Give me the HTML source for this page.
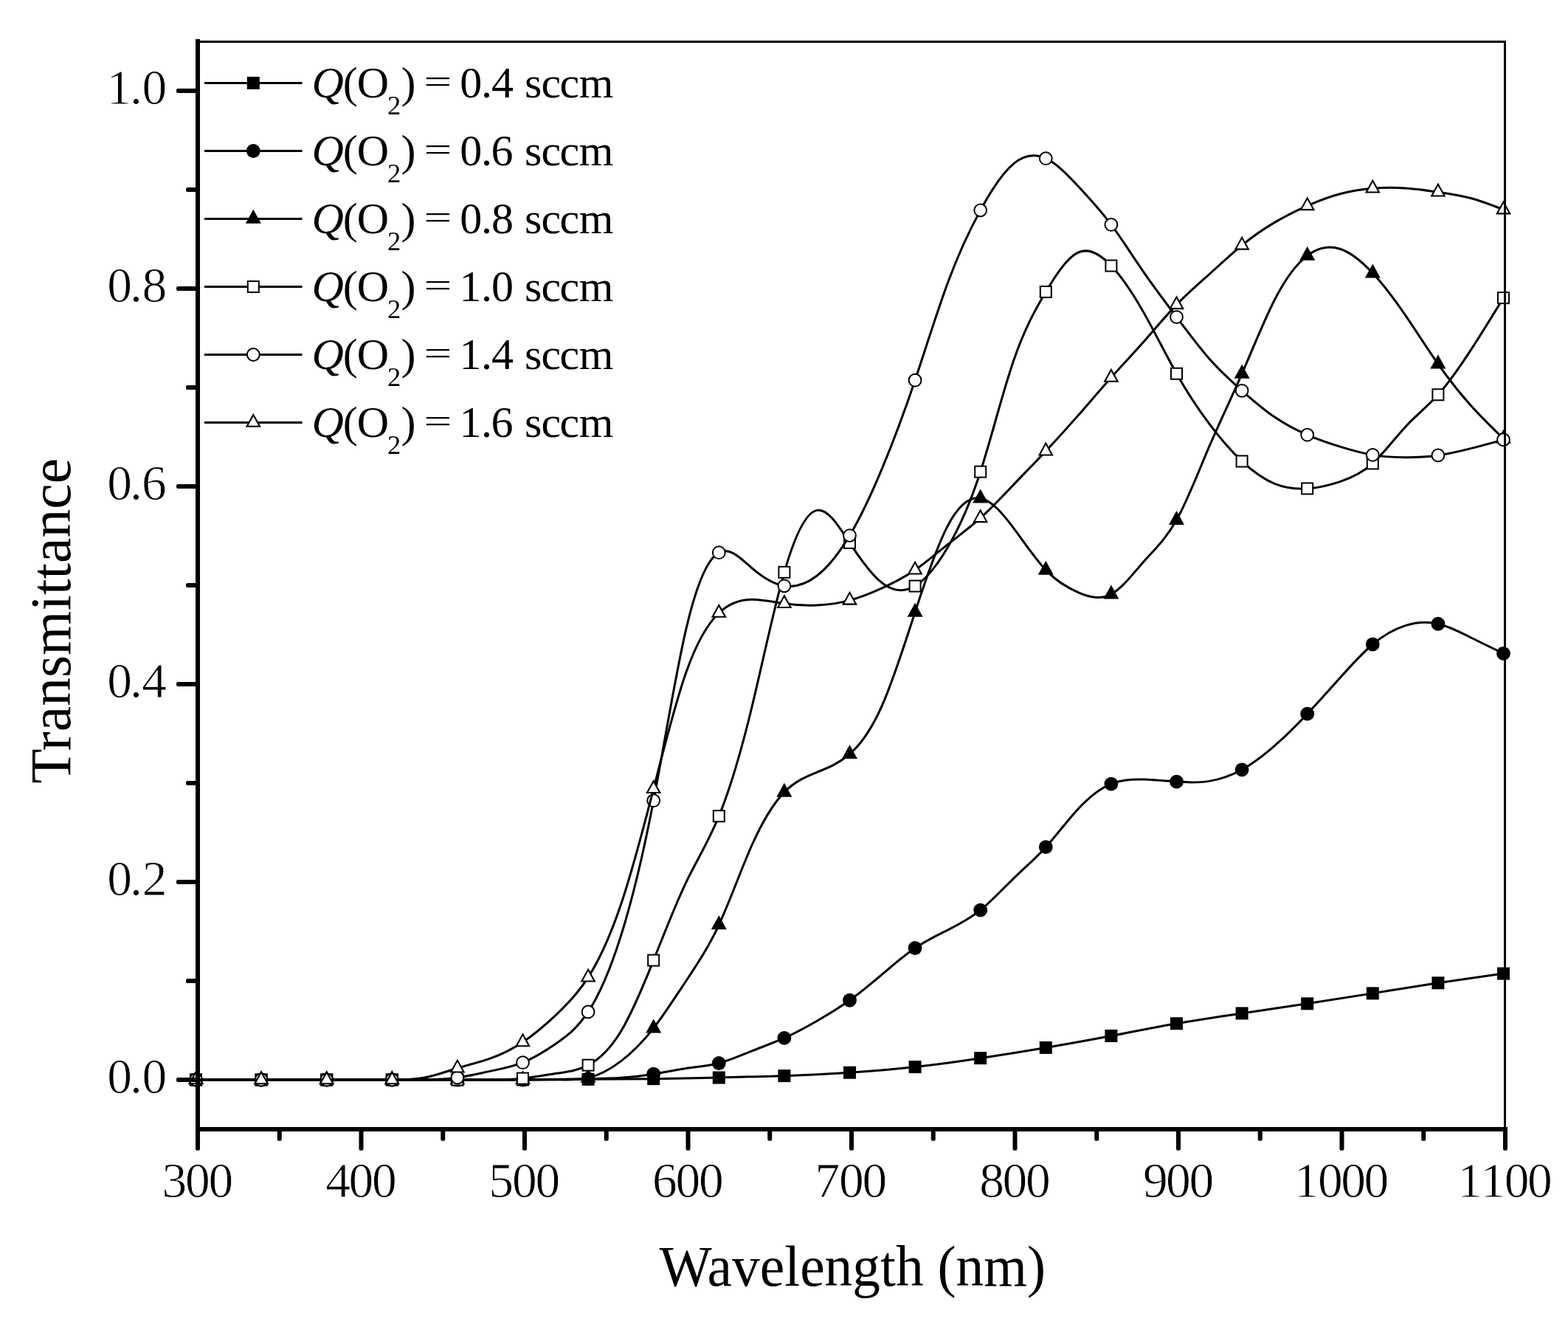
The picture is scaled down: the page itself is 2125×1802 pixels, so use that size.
<!DOCTYPE html>
<html><head><meta charset="utf-8"><title>Transmittance vs Wavelength</title>
<style>html,body{margin:0;padding:0;background:#fff;}svg{display:block;}.er{stroke:#fff;stroke-width:0.8px;}</style>
</head><body>
<svg width="2125" height="1802" viewBox="0 0 2125 1802" font-family="Liberation Serif, serif" fill="#000">
<rect width="2125" height="1802" fill="#fff"/>
<path d="M265.50,1463.00C295.03,1463.00 324.57,1463.00 354.10,1463.00C383.63,1463.00 413.17,1463.00 442.70,1463.00C472.23,1463.00 501.77,1463.01 531.30,1463.00C560.83,1462.99 590.37,1462.97 619.90,1463.00C649.43,1463.03 678.97,1463.12 708.50,1463.00C738.03,1462.88 767.57,1462.55 797.10,1462.33C826.63,1462.11 856.17,1462.01 885.70,1461.66C915.23,1461.31 944.77,1460.70 974.30,1460.05C1003.83,1459.40 1033.37,1458.70 1062.90,1457.64C1092.43,1456.58 1121.97,1455.14 1151.50,1453.22C1181.03,1451.29 1210.57,1448.88 1240.10,1445.58C1269.63,1442.28 1299.17,1438.11 1328.70,1433.65C1358.23,1429.20 1387.77,1424.47 1417.30,1419.45C1446.83,1414.43 1476.37,1409.14 1505.90,1403.50C1535.43,1397.87 1564.97,1391.90 1594.50,1386.75C1624.03,1381.60 1653.57,1377.27 1683.10,1372.95C1712.63,1368.63 1742.17,1364.32 1771.70,1359.82C1801.23,1355.32 1830.77,1350.64 1860.30,1345.88C1889.83,1341.13 1919.37,1336.29 1948.90,1331.81C1978.43,1327.33 2007.97,1323.21 2037.50,1319.08" fill="none" stroke="#000" stroke-width="3"/>
<rect x="257.00" y="1454.50" width="17" height="17" fill="#000"/>
<rect x="345.60" y="1454.50" width="17" height="17" fill="#000"/>
<rect x="434.20" y="1454.50" width="17" height="17" fill="#000"/>
<rect x="522.80" y="1454.50" width="17" height="17" fill="#000"/>
<rect x="611.40" y="1454.50" width="17" height="17" fill="#000"/>
<rect x="700.00" y="1454.50" width="17" height="17" fill="#000"/>
<rect x="788.60" y="1453.83" width="17" height="17" fill="#000"/>
<rect x="877.20" y="1453.16" width="17" height="17" fill="#000"/>
<rect x="965.80" y="1451.55" width="17" height="17" fill="#000"/>
<rect x="1054.40" y="1449.14" width="17" height="17" fill="#000"/>
<rect x="1143.00" y="1444.72" width="17" height="17" fill="#000"/>
<rect x="1231.60" y="1437.08" width="17" height="17" fill="#000"/>
<rect x="1320.20" y="1425.15" width="17" height="17" fill="#000"/>
<rect x="1408.80" y="1410.95" width="17" height="17" fill="#000"/>
<rect x="1497.40" y="1395.00" width="17" height="17" fill="#000"/>
<rect x="1586.00" y="1378.25" width="17" height="17" fill="#000"/>
<rect x="1674.60" y="1364.45" width="17" height="17" fill="#000"/>
<rect x="1763.20" y="1351.32" width="17" height="17" fill="#000"/>
<rect x="1851.80" y="1337.38" width="17" height="17" fill="#000"/>
<rect x="1940.40" y="1323.31" width="17" height="17" fill="#000"/>
<rect x="2029.00" y="1310.58" width="17" height="17" fill="#000"/>
<path d="M265.50,1463.00C295.03,1463.00 324.57,1463.00 354.10,1463.00C383.63,1463.00 413.17,1463.00 442.70,1463.00C472.23,1463.00 501.77,1463.02 531.30,1463.00C560.83,1462.98 590.37,1462.94 619.90,1463.00C649.43,1463.06 678.97,1463.23 708.50,1463.00C738.03,1462.77 767.57,1462.16 797.10,1461.66C811.87,1461.41 826.63,1461.19 841.40,1460.26C856.17,1459.32 870.93,1457.68 885.70,1455.23C900.47,1452.78 915.23,1449.53 930.00,1447.41C944.77,1445.29 959.53,1444.31 974.30,1440.49C989.07,1436.67 1003.83,1430.00 1018.60,1424.10C1033.37,1418.20 1048.13,1413.06 1062.90,1406.45C1077.67,1399.84 1092.43,1391.76 1107.20,1383.26C1121.97,1374.76 1136.73,1365.85 1151.50,1355.26C1166.27,1344.68 1181.03,1332.42 1195.80,1319.88C1210.57,1307.33 1225.33,1294.49 1240.10,1284.51C1254.87,1274.54 1269.63,1267.43 1284.40,1260.06C1299.17,1252.70 1313.93,1245.08 1328.70,1233.19C1343.47,1221.30 1358.23,1205.14 1373.00,1190.81C1387.77,1176.48 1402.53,1163.99 1417.30,1147.70C1432.07,1131.40 1446.83,1111.30 1461.60,1095.47C1476.37,1079.64 1491.13,1068.09 1505.90,1062.07C1520.67,1056.06 1535.43,1055.58 1550.20,1056.09C1564.97,1056.60 1579.73,1058.11 1594.50,1059.12C1609.27,1060.14 1624.03,1060.65 1638.80,1058.36C1653.57,1056.06 1668.33,1050.94 1683.10,1042.78C1697.87,1034.61 1712.63,1023.39 1727.40,1010.44C1742.17,997.49 1756.93,982.82 1771.70,967.20C1786.47,951.58 1801.23,935.03 1816.00,918.48C1830.77,901.94 1845.53,885.41 1860.30,873.00C1875.07,860.58 1889.83,852.28 1904.60,847.61C1919.37,842.95 1934.13,841.91 1948.90,845.26C1963.67,848.61 1978.43,856.34 1993.20,863.75C2007.97,871.16 2022.73,878.24 2037.50,885.33" fill="none" stroke="#000" stroke-width="3"/>
<circle cx="265.50" cy="1463.00" r="9.4" fill="#000"/>
<circle cx="354.10" cy="1463.00" r="9.4" fill="#000"/>
<circle cx="442.70" cy="1463.00" r="9.4" fill="#000"/>
<circle cx="531.30" cy="1463.00" r="9.4" fill="#000"/>
<circle cx="619.90" cy="1463.00" r="9.4" fill="#000"/>
<circle cx="708.50" cy="1463.00" r="9.4" fill="#000"/>
<circle cx="797.10" cy="1461.66" r="9.4" fill="#000"/>
<circle cx="885.70" cy="1455.23" r="9.4" fill="#000"/>
<circle cx="974.30" cy="1440.49" r="9.4" fill="#000"/>
<circle cx="1062.90" cy="1406.45" r="9.4" fill="#000"/>
<circle cx="1151.50" cy="1355.26" r="9.4" fill="#000"/>
<circle cx="1240.10" cy="1284.51" r="9.4" fill="#000"/>
<circle cx="1328.70" cy="1233.19" r="9.4" fill="#000"/>
<circle cx="1417.30" cy="1147.70" r="9.4" fill="#000"/>
<circle cx="1505.90" cy="1062.07" r="9.4" fill="#000"/>
<circle cx="1594.50" cy="1059.12" r="9.4" fill="#000"/>
<circle cx="1683.10" cy="1042.78" r="9.4" fill="#000"/>
<circle cx="1771.70" cy="967.20" r="9.4" fill="#000"/>
<circle cx="1860.30" cy="873.00" r="9.4" fill="#000"/>
<circle cx="1948.90" cy="845.26" r="9.4" fill="#000"/>
<circle cx="2037.50" cy="885.33" r="9.4" fill="#000"/>
<path d="M265.50,1463.00C295.03,1463.00 324.57,1463.00 354.10,1463.00C383.63,1463.00 413.17,1462.99 442.70,1463.00C472.23,1463.01 501.77,1463.03 531.30,1463.00C560.83,1462.97 590.37,1462.90 619.90,1463.00C649.43,1463.10 678.97,1463.39 708.50,1463.00C723.27,1462.81 738.03,1462.45 752.80,1462.69C767.57,1462.94 782.33,1463.79 797.10,1460.32C811.87,1456.85 826.63,1449.04 841.40,1437.82C856.17,1426.59 870.93,1411.94 885.70,1393.05C900.47,1374.16 915.23,1351.04 930.00,1328.71C944.77,1306.37 959.53,1284.82 974.30,1253.02C989.07,1221.22 1003.83,1179.18 1018.60,1146.00C1033.37,1112.82 1048.13,1088.49 1062.90,1073.33C1077.67,1058.16 1092.43,1052.15 1107.20,1046.29C1121.97,1040.42 1136.73,1034.70 1151.50,1021.74C1166.27,1008.77 1181.03,988.56 1195.80,955.06C1210.57,921.56 1225.33,874.77 1240.10,829.45C1254.87,784.13 1269.63,740.28 1284.40,712.40C1299.17,684.53 1313.93,672.62 1328.70,675.21C1343.47,677.80 1358.23,694.89 1373.00,714.65C1387.77,734.40 1402.53,756.84 1417.30,772.36C1432.07,787.89 1446.83,796.50 1461.60,802.77C1476.37,809.05 1491.13,812.99 1505.90,805.06C1520.67,797.13 1535.43,777.34 1550.20,760.74C1564.97,744.14 1579.73,730.73 1594.50,704.56C1609.27,678.39 1624.03,639.46 1638.80,604.95C1653.57,570.45 1668.33,540.38 1683.10,506.51C1697.87,472.63 1712.63,434.96 1727.40,406.20C1742.17,377.45 1756.93,357.61 1771.70,346.38C1786.47,335.14 1801.23,332.51 1816.00,337.27C1830.77,342.03 1845.53,354.19 1860.30,370.10C1875.07,386.00 1889.83,405.65 1904.60,427.16C1919.37,448.68 1934.13,472.06 1948.90,493.11C1963.67,514.15 1978.43,532.86 1993.20,549.36C2007.97,565.85 2022.73,580.13 2037.50,594.41" fill="none" stroke="#000" stroke-width="3"/>
<polygon points="265.50,1450.33 276.00,1469.33 255.00,1469.33" fill="#000"/>
<polygon points="354.10,1450.33 364.60,1469.33 343.60,1469.33" fill="#000"/>
<polygon points="442.70,1450.33 453.20,1469.33 432.20,1469.33" fill="#000"/>
<polygon points="531.30,1450.33 541.80,1469.33 520.80,1469.33" fill="#000"/>
<polygon points="619.90,1450.33 630.40,1469.33 609.40,1469.33" fill="#000"/>
<polygon points="708.50,1450.33 719.00,1469.33 698.00,1469.33" fill="#000"/>
<polygon points="797.10,1447.65 807.60,1466.65 786.60,1466.65" fill="#000"/>
<polygon points="885.70,1380.39 896.20,1399.39 875.20,1399.39" fill="#000"/>
<polygon points="974.30,1240.36 984.80,1259.36 963.80,1259.36" fill="#000"/>
<polygon points="1062.90,1060.66 1073.40,1079.66 1052.40,1079.66" fill="#000"/>
<polygon points="1151.50,1009.07 1162.00,1028.07 1141.00,1028.07" fill="#000"/>
<polygon points="1240.10,816.78 1250.60,835.78 1229.60,835.78" fill="#000"/>
<polygon points="1328.70,662.55 1339.20,681.55 1318.20,681.55" fill="#000"/>
<polygon points="1417.30,759.70 1427.80,778.70 1406.80,778.70" fill="#000"/>
<polygon points="1505.90,792.39 1516.40,811.39 1495.40,811.39" fill="#000"/>
<polygon points="1594.50,691.89 1605.00,710.89 1584.00,710.89" fill="#000"/>
<polygon points="1683.10,493.84 1693.60,512.84 1672.60,512.84" fill="#000"/>
<polygon points="1771.70,333.71 1782.20,352.71 1761.20,352.71" fill="#000"/>
<polygon points="1860.30,357.43 1870.80,376.43 1849.80,376.43" fill="#000"/>
<polygon points="1948.90,480.44 1959.40,499.44 1938.40,499.44" fill="#000"/>
<polygon points="2037.50,581.75 2048.00,600.75 2027.00,600.75" fill="#000"/>
<path d="M265.50,1463.00C295.03,1463.00 324.57,1463.00 354.10,1463.00C383.63,1463.00 413.17,1462.99 442.70,1463.00C472.23,1463.01 501.77,1463.03 531.30,1463.00C560.83,1462.97 590.37,1462.89 619.90,1463.00C634.67,1463.05 649.43,1463.15 664.20,1463.06C678.97,1462.96 693.73,1462.67 708.50,1461.12C723.27,1459.58 738.03,1456.78 752.80,1454.58C767.57,1452.38 782.33,1450.78 797.10,1443.17C811.87,1435.56 826.63,1421.94 841.40,1397.55C856.17,1373.16 870.93,1338.00 885.70,1301.13C900.47,1264.25 915.23,1225.66 930.00,1195.04C944.77,1164.42 959.53,1141.78 974.30,1105.75C989.07,1069.73 1003.83,1020.32 1018.60,959.49C1033.37,898.66 1048.13,826.42 1062.90,775.31C1077.67,724.21 1092.43,694.25 1107.20,691.39C1121.97,688.53 1136.73,712.77 1151.50,735.38C1166.27,757.99 1181.03,778.97 1195.80,790.16C1210.57,801.35 1225.33,802.75 1240.10,794.07C1254.87,785.39 1269.63,766.64 1284.40,741.49C1299.17,716.33 1313.93,684.79 1328.70,639.17C1343.47,593.54 1358.23,533.83 1373.00,490.46C1387.77,447.09 1402.53,420.06 1417.30,395.42C1432.07,370.78 1446.83,348.53 1461.60,341.95C1476.37,335.36 1491.13,344.45 1505.90,360.05C1520.67,375.64 1535.43,397.76 1550.20,423.88C1564.97,450.00 1579.73,480.12 1594.50,506.24C1609.27,532.36 1624.03,554.49 1638.80,574.17C1653.57,593.85 1668.33,611.09 1683.10,624.96C1697.87,638.84 1712.63,649.36 1727.40,655.38C1742.17,661.40 1756.93,662.90 1771.70,661.95C1786.47,660.99 1801.23,657.57 1816.00,652.64C1830.77,647.71 1845.53,641.27 1860.30,627.91C1875.07,614.55 1889.83,594.28 1904.60,578.43C1919.37,562.58 1934.13,551.16 1948.90,534.78C1963.67,518.40 1978.43,497.05 1993.20,474.36C2007.97,451.67 2022.73,427.63 2037.50,403.60" fill="none" stroke="#000" stroke-width="3"/>
<rect x="257.00" y="1454.50" width="17" height="17" fill="#000"/><rect x="259.00" y="1456.50" width="13" height="13" fill="#fff"/>
<rect x="345.60" y="1454.50" width="17" height="17" fill="#000"/><rect x="347.60" y="1456.50" width="13" height="13" fill="#fff"/>
<rect x="434.20" y="1454.50" width="17" height="17" fill="#000"/><rect x="436.20" y="1456.50" width="13" height="13" fill="#fff"/>
<rect x="522.80" y="1454.50" width="17" height="17" fill="#000"/><rect x="524.80" y="1456.50" width="13" height="13" fill="#fff"/>
<rect x="611.40" y="1454.50" width="17" height="17" fill="#000"/><rect x="613.40" y="1456.50" width="13" height="13" fill="#fff"/>
<rect x="700.00" y="1452.62" width="17" height="17" fill="#000"/><rect x="702.00" y="1454.62" width="13" height="13" fill="#fff"/>
<rect x="788.60" y="1434.67" width="17" height="17" fill="#000"/><rect x="790.60" y="1436.67" width="13" height="13" fill="#fff"/>
<rect x="877.20" y="1292.63" width="17" height="17" fill="#000"/><rect x="879.20" y="1294.63" width="13" height="13" fill="#fff"/>
<rect x="965.80" y="1097.26" width="17" height="17" fill="#000"/><rect x="967.80" y="1099.26" width="13" height="13" fill="#fff"/>
<rect x="1054.40" y="766.81" width="17" height="17" fill="#000"/><rect x="1056.40" y="768.81" width="13" height="13" fill="#fff"/>
<rect x="1143.00" y="726.88" width="17" height="17" fill="#000"/><rect x="1145.00" y="728.88" width="13" height="13" fill="#fff"/>
<rect x="1231.60" y="785.57" width="17" height="17" fill="#000"/><rect x="1233.60" y="787.57" width="13" height="13" fill="#fff"/>
<rect x="1320.20" y="630.67" width="17" height="17" fill="#000"/><rect x="1322.20" y="632.67" width="13" height="13" fill="#fff"/>
<rect x="1408.80" y="386.92" width="17" height="17" fill="#000"/><rect x="1410.80" y="388.92" width="13" height="13" fill="#fff"/>
<rect x="1497.40" y="351.55" width="17" height="17" fill="#000"/><rect x="1499.40" y="353.55" width="13" height="13" fill="#fff"/>
<rect x="1586.00" y="497.74" width="17" height="17" fill="#000"/><rect x="1588.00" y="499.74" width="13" height="13" fill="#fff"/>
<rect x="1674.60" y="616.46" width="17" height="17" fill="#000"/><rect x="1676.60" y="618.46" width="13" height="13" fill="#fff"/>
<rect x="1763.20" y="653.45" width="17" height="17" fill="#000"/><rect x="1765.20" y="655.45" width="13" height="13" fill="#fff"/>
<rect x="1851.80" y="619.41" width="17" height="17" fill="#000"/><rect x="1853.80" y="621.41" width="13" height="13" fill="#fff"/>
<rect x="1940.40" y="526.28" width="17" height="17" fill="#000"/><rect x="1942.40" y="528.28" width="13" height="13" fill="#fff"/>
<rect x="2029.00" y="395.10" width="17" height="17" fill="#000"/><rect x="2031.00" y="397.10" width="13" height="13" fill="#fff"/>
<path d="M265.50,1463.00C295.03,1462.99 324.57,1462.99 354.10,1463.00C383.63,1463.01 413.17,1463.05 442.70,1463.00C472.23,1462.95 501.77,1462.81 531.30,1463.00C546.07,1463.10 560.83,1463.28 575.60,1463.03C590.37,1462.79 605.13,1462.13 619.90,1460.05C634.67,1457.97 649.43,1454.47 664.20,1451.37C678.97,1448.28 693.73,1445.58 708.50,1439.68C723.27,1433.78 738.03,1424.68 752.80,1414.56C767.57,1404.44 782.33,1393.30 797.10,1370.94C811.87,1348.58 826.63,1314.99 841.40,1268.22C856.17,1221.44 870.93,1161.48 885.70,1084.71C900.47,1007.95 915.23,914.37 930.00,851.55C944.77,788.73 959.53,756.66 974.30,748.65C989.07,740.63 1003.83,756.66 1018.60,769.37C1033.37,782.08 1048.13,791.46 1062.90,793.80C1077.67,796.15 1092.43,791.45 1107.20,780.02C1121.97,768.59 1136.73,750.43 1151.50,725.60C1166.27,700.76 1181.03,669.26 1195.80,633.83C1210.57,598.40 1225.33,559.06 1240.10,515.22C1254.87,471.37 1269.63,423.03 1284.40,383.19C1299.17,343.35 1313.93,312.01 1328.70,284.87C1343.47,257.74 1358.23,234.81 1373.00,222.35C1387.77,209.89 1402.53,207.89 1417.30,214.66C1432.07,221.43 1446.83,236.97 1461.60,252.78C1476.37,268.58 1491.13,284.65 1505.90,304.44C1520.67,324.22 1535.43,347.71 1550.20,369.14C1564.97,390.57 1579.73,409.93 1594.50,429.59C1609.27,449.26 1624.03,469.22 1638.80,485.97C1653.57,502.71 1668.33,516.23 1683.10,529.29C1697.87,542.35 1712.63,554.95 1727.40,565.08C1742.17,575.20 1756.93,582.85 1771.70,589.19C1786.47,595.52 1801.23,600.55 1816.00,605.15C1830.77,609.74 1845.53,613.91 1860.30,616.39C1875.07,618.87 1889.83,619.67 1904.60,619.70C1919.37,619.74 1934.13,619.01 1948.90,616.92C1963.67,614.84 1978.43,611.40 1993.20,607.65C2007.97,603.90 2022.73,599.82 2037.50,595.75" fill="none" stroke="#000" stroke-width="3"/>
<circle cx="265.50" cy="1463.00" r="8.4" fill="#fff" stroke="#000" stroke-width="2"/>
<circle cx="354.10" cy="1463.00" r="8.4" fill="#fff" stroke="#000" stroke-width="2"/>
<circle cx="442.70" cy="1463.00" r="8.4" fill="#fff" stroke="#000" stroke-width="2"/>
<circle cx="531.30" cy="1463.00" r="8.4" fill="#fff" stroke="#000" stroke-width="2"/>
<circle cx="619.90" cy="1460.05" r="8.4" fill="#fff" stroke="#000" stroke-width="2"/>
<circle cx="708.50" cy="1439.68" r="8.4" fill="#fff" stroke="#000" stroke-width="2"/>
<circle cx="797.10" cy="1370.94" r="8.4" fill="#fff" stroke="#000" stroke-width="2"/>
<circle cx="885.70" cy="1084.72" r="8.4" fill="#fff" stroke="#000" stroke-width="2"/>
<circle cx="974.30" cy="748.65" r="8.4" fill="#fff" stroke="#000" stroke-width="2"/>
<circle cx="1062.90" cy="793.80" r="8.4" fill="#fff" stroke="#000" stroke-width="2"/>
<circle cx="1151.50" cy="725.60" r="8.4" fill="#fff" stroke="#000" stroke-width="2"/>
<circle cx="1240.10" cy="515.22" r="8.4" fill="#fff" stroke="#000" stroke-width="2"/>
<circle cx="1328.70" cy="284.87" r="8.4" fill="#fff" stroke="#000" stroke-width="2"/>
<circle cx="1417.30" cy="214.66" r="8.4" fill="#fff" stroke="#000" stroke-width="2"/>
<circle cx="1505.90" cy="304.44" r="8.4" fill="#fff" stroke="#000" stroke-width="2"/>
<circle cx="1594.50" cy="429.59" r="8.4" fill="#fff" stroke="#000" stroke-width="2"/>
<circle cx="1683.10" cy="529.29" r="8.4" fill="#fff" stroke="#000" stroke-width="2"/>
<circle cx="1771.70" cy="589.19" r="8.4" fill="#fff" stroke="#000" stroke-width="2"/>
<circle cx="1860.30" cy="616.39" r="8.4" fill="#fff" stroke="#000" stroke-width="2"/>
<circle cx="1948.90" cy="616.92" r="8.4" fill="#fff" stroke="#000" stroke-width="2"/>
<circle cx="2037.50" cy="595.75" r="8.4" fill="#fff" stroke="#000" stroke-width="2"/>
<path d="M265.50,1463.00C295.03,1463.00 324.57,1463.01 354.10,1463.00C383.63,1462.99 413.17,1462.98 442.70,1463.00C472.23,1463.02 501.77,1463.09 531.30,1463.00C546.07,1462.96 560.83,1462.87 575.60,1460.05C590.37,1457.22 605.13,1451.65 619.90,1447.19C634.67,1442.73 649.43,1439.38 664.20,1434.15C678.97,1428.92 693.73,1421.80 708.50,1411.95C723.27,1402.09 738.03,1389.50 752.80,1375.81C767.57,1362.12 782.33,1347.33 797.10,1324.18C811.87,1301.02 826.63,1269.50 841.40,1225.81C856.17,1182.11 870.93,1126.23 885.70,1068.77C900.47,1011.31 915.23,952.27 930.00,910.61C944.77,868.94 959.53,844.65 974.30,830.52C989.07,816.39 1003.83,812.41 1018.60,812.22C1033.37,812.04 1048.13,815.65 1062.90,817.79C1077.67,819.93 1092.43,820.60 1107.20,819.96C1121.97,819.31 1136.73,817.35 1151.50,813.37C1166.27,809.38 1181.03,803.38 1195.80,796.61C1210.57,789.85 1225.33,782.34 1240.10,772.23C1254.87,762.12 1269.63,749.42 1284.40,737.68C1299.17,725.94 1313.93,715.17 1328.70,701.88C1343.47,688.59 1358.23,672.80 1373.00,657.36C1387.77,641.92 1402.53,626.83 1417.30,611.16C1432.07,595.50 1446.83,579.26 1461.60,562.38C1476.37,545.51 1491.13,527.99 1505.90,511.47C1520.67,494.94 1535.43,479.40 1550.20,462.69C1564.97,445.98 1579.73,428.11 1594.50,412.84C1609.27,397.57 1624.03,384.91 1638.80,371.60C1653.57,358.29 1668.33,344.35 1683.10,332.31C1697.87,320.27 1712.63,310.14 1727.40,301.40C1742.17,292.66 1756.93,285.32 1771.70,278.84C1786.47,272.37 1801.23,266.76 1816.00,262.79C1830.77,258.82 1845.53,256.49 1860.30,255.26C1875.07,254.02 1889.83,253.88 1904.60,254.88C1919.37,255.89 1934.13,258.05 1948.90,260.22C1963.67,262.39 1978.43,264.57 1993.20,268.55C2007.97,272.52 2022.73,278.30 2037.50,284.07" fill="none" stroke="#000" stroke-width="3"/>
<polygon points="265.50,1450.33 276.00,1469.33 255.00,1469.33" fill="#000"/><polygon points="265.50,1454.67 272.44,1467.23 258.56,1467.23" fill="#fff"/>
<polygon points="354.10,1450.33 364.60,1469.33 343.60,1469.33" fill="#000"/><polygon points="354.10,1454.67 361.04,1467.23 347.16,1467.23" fill="#fff"/>
<polygon points="442.70,1450.33 453.20,1469.33 432.20,1469.33" fill="#000"/><polygon points="442.70,1454.67 449.64,1467.23 435.76,1467.23" fill="#fff"/>
<polygon points="531.30,1450.33 541.80,1469.33 520.80,1469.33" fill="#000"/><polygon points="531.30,1454.67 538.24,1467.23 524.36,1467.23" fill="#fff"/>
<polygon points="619.90,1434.52 630.40,1453.52 609.40,1453.52" fill="#000"/><polygon points="619.90,1438.86 626.84,1451.42 612.96,1451.42" fill="#fff"/>
<polygon points="708.50,1399.28 719.00,1418.28 698.00,1418.28" fill="#000"/><polygon points="708.50,1403.62 715.44,1416.18 701.56,1416.18" fill="#fff"/>
<polygon points="797.10,1311.51 807.60,1330.51 786.60,1330.51" fill="#000"/><polygon points="797.10,1315.85 804.04,1328.41 790.16,1328.41" fill="#fff"/>
<polygon points="885.70,1056.11 896.20,1075.11 875.20,1075.11" fill="#000"/><polygon points="885.70,1060.45 892.64,1073.01 878.76,1073.01" fill="#fff"/>
<polygon points="974.30,817.85 984.80,836.85 963.80,836.85" fill="#000"/><polygon points="974.30,822.19 981.24,834.75 967.36,834.75" fill="#fff"/>
<polygon points="1062.90,805.12 1073.40,824.12 1052.40,824.12" fill="#000"/><polygon points="1062.90,809.46 1069.84,822.02 1055.96,822.02" fill="#fff"/>
<polygon points="1151.50,800.70 1162.00,819.70 1141.00,819.70" fill="#000"/><polygon points="1151.50,805.04 1158.44,817.60 1144.56,817.60" fill="#fff"/>
<polygon points="1240.10,759.56 1250.60,778.56 1229.60,778.56" fill="#000"/><polygon points="1240.10,763.90 1247.04,776.46 1233.16,776.46" fill="#fff"/>
<polygon points="1328.70,689.21 1339.20,708.21 1318.20,708.21" fill="#000"/><polygon points="1328.70,693.55 1335.64,706.11 1321.76,706.11" fill="#fff"/>
<polygon points="1417.30,598.50 1427.80,617.50 1406.80,617.50" fill="#000"/><polygon points="1417.30,602.84 1424.24,615.40 1410.36,615.40" fill="#fff"/>
<polygon points="1505.90,498.80 1516.40,517.80 1495.40,517.80" fill="#000"/><polygon points="1505.90,503.14 1512.84,515.70 1498.96,515.70" fill="#fff"/>
<polygon points="1594.50,400.18 1605.00,419.18 1584.00,419.18" fill="#000"/><polygon points="1594.50,404.52 1601.44,417.08 1587.56,417.08" fill="#fff"/>
<polygon points="1683.10,319.64 1693.60,338.64 1672.60,338.64" fill="#000"/><polygon points="1683.10,323.98 1690.04,336.54 1676.16,336.54" fill="#fff"/>
<polygon points="1771.70,266.18 1782.20,285.18 1761.20,285.18" fill="#000"/><polygon points="1771.70,270.52 1778.64,283.08 1764.76,283.08" fill="#fff"/>
<polygon points="1860.30,242.59 1870.80,261.59 1849.80,261.59" fill="#000"/><polygon points="1860.30,246.93 1867.24,259.49 1853.36,259.49" fill="#fff"/>
<polygon points="1948.90,247.55 1959.40,266.55 1938.40,266.55" fill="#000"/><polygon points="1948.90,251.89 1955.84,264.45 1941.96,264.45" fill="#fff"/>
<polygon points="2037.50,271.40 2048.00,290.40 2027.00,290.40" fill="#000"/><polygon points="2037.50,275.74 2044.44,288.30 2030.56,288.30" fill="#fff"/>
<g fill="#000">
<rect x="265" y="53" width="6" height="1480"/>
<rect x="265" y="55" width="1776" height="3"/>
<rect x="2038" y="55" width="3" height="1478"/>
<rect x="265" y="1527" width="1778" height="6"/>
<rect x="239" y="1460.00" width="31" height="6" rx="2.2"/>
<rect x="239" y="1192.00" width="31" height="6" rx="2.2"/>
<rect x="239" y="924.00" width="31" height="6" rx="2.2"/>
<rect x="239" y="656.00" width="31" height="6" rx="2.2"/>
<rect x="239" y="388.00" width="31" height="6" rx="2.2"/>
<rect x="239" y="120.00" width="31" height="6" rx="2.2"/>
<rect x="252" y="1326.00" width="18" height="6" rx="2.2"/>
<rect x="252" y="1058.00" width="18" height="6" rx="2.2"/>
<rect x="252" y="790.00" width="18" height="6" rx="2.2"/>
<rect x="252" y="522.00" width="18" height="6" rx="2.2"/>
<rect x="252" y="254.00" width="18" height="6" rx="2.2"/>
<rect x="265.00" y="1528" width="6" height="30.700000000000045" rx="2.2"/>
<rect x="486.50" y="1528" width="6" height="30.700000000000045" rx="2.2"/>
<rect x="708.00" y="1528" width="6" height="30.700000000000045" rx="2.2"/>
<rect x="929.50" y="1528" width="6" height="30.700000000000045" rx="2.2"/>
<rect x="1151.00" y="1528" width="6" height="30.700000000000045" rx="2.2"/>
<rect x="1372.50" y="1528" width="6" height="30.700000000000045" rx="2.2"/>
<rect x="1594.00" y="1528" width="6" height="30.700000000000045" rx="2.2"/>
<rect x="1815.50" y="1528" width="6" height="30.700000000000045" rx="2.2"/>
<rect x="2037.00" y="1528" width="6" height="30.700000000000045" rx="2.2"/>
<rect x="375.75" y="1528" width="6" height="17.799999999999955" rx="2.2"/>
<rect x="597.25" y="1528" width="6" height="17.799999999999955" rx="2.2"/>
<rect x="818.75" y="1528" width="6" height="17.799999999999955" rx="2.2"/>
<rect x="1040.25" y="1528" width="6" height="17.799999999999955" rx="2.2"/>
<rect x="1261.75" y="1528" width="6" height="17.799999999999955" rx="2.2"/>
<rect x="1483.25" y="1528" width="6" height="17.799999999999955" rx="2.2"/>
<rect x="1704.75" y="1528" width="6" height="17.799999999999955" rx="2.2"/>
<rect x="1926.25" y="1528" width="6" height="17.799999999999955" rx="2.2"/>
</g>
<text x="145.32 175.96 192.43" y="1480.90" font-size="67.5" class="er">0.0</text>
<text x="145.32 175.96 192.80" y="1212.90" font-size="67.5" class="er">0.2</text>
<text x="145.32 175.96 192.29" y="944.90" font-size="67.5" class="er">0.4</text>
<text x="145.32 175.96 191.98" y="676.90" font-size="67.5" class="er">0.6</text>
<text x="145.32 175.96 192.43" y="408.90" font-size="67.5" class="er">0.8</text>
<text x="144.39 175.96 192.43" y="140.90" font-size="67.5" class="er">1.0</text>
<text x="219.53 251.12 282.43" y="1621.80" font-size="67.5" class="er">300</text>
<text x="441.19 472.62 503.92" y="1621.80" font-size="67.5" class="er">400</text>
<text x="662.18 694.12 725.42" y="1621.80" font-size="67.5" class="er">500</text>
<text x="883.88 915.62 946.92" y="1621.80" font-size="67.5" class="er">600</text>
<text x="1104.57 1137.12 1168.42" y="1621.80" font-size="67.5" class="er">700</text>
<text x="1327.33 1358.62 1389.92" y="1621.80" font-size="67.5" class="er">800</text>
<text x="1549.12 1580.12 1611.42" y="1621.80" font-size="67.5" class="er">900</text>
<text x="1753.74 1785.97 1817.28 1848.58" y="1621.80" font-size="67.5" class="er">1000</text>
<text x="1975.24 2006.54 2038.78 2070.07" y="1621.80" font-size="67.5" class="er">1100</text>
<text x="893.5" y="1742" font-size="78" textLength="523.5" lengthAdjust="spacingAndGlyphs">Wavelength (nm)</text>
<text transform="translate(95,1061.5) rotate(-90)" x="-0.3" y="0" font-size="78" textLength="441" lengthAdjust="spacingAndGlyphs">Transmittance</text>
<rect x="277" y="111.00" width="132.5" height="3"/>
<rect x="334.80" y="104.00" width="17" height="17" fill="#000"/>
<text x="422.49" y="131.70" font-size="60" font-style="italic">Q</text>
<text x="464.66 483.68" y="131.70" font-size="60">(O</text>
<text x="525.08" y="155.00" font-size="36.5">2</text>
<text x="543.41 623.30 652.10 665.88 710.98 733.56 758.46 784.80" y="131.70" font-size="60">)0.4sccm</text>
<text transform="translate(593.5,124.90) scale(1.116,0.75)" x="-16.95" y="0" font-size="60">=</text>
<rect x="277" y="203.00" width="132.5" height="3"/>
<circle cx="343.30" cy="204.50" r="9.4" fill="#000"/>
<text x="422.49" y="223.70" font-size="60" font-style="italic">Q</text>
<text x="464.66 483.68" y="223.70" font-size="60">(O</text>
<text x="525.08" y="247.00" font-size="36.5">2</text>
<text x="543.41 623.30 652.10 665.60 710.98 733.56 758.46 784.80" y="223.70" font-size="60">)0.6sccm</text>
<text transform="translate(593.5,216.90) scale(1.116,0.75)" x="-16.95" y="0" font-size="60">=</text>
<rect x="277" y="295.00" width="132.5" height="3"/>
<polygon points="343.30,283.83 353.80,302.83 332.80,302.83" fill="#000"/>
<text x="422.49" y="315.70" font-size="60" font-style="italic">Q</text>
<text x="464.66 483.68" y="315.70" font-size="60">(O</text>
<text x="525.08" y="339.00" font-size="36.5">2</text>
<text x="543.41 623.30 652.10 666.00 710.98 733.56 758.46 784.80" y="315.70" font-size="60">)0.8sccm</text>
<text transform="translate(593.5,308.90) scale(1.116,0.75)" x="-16.95" y="0" font-size="60">=</text>
<rect x="277" y="387.00" width="132.5" height="3"/>
<rect x="334.80" y="380.00" width="17" height="17" fill="#000"/><rect x="336.80" y="382.00" width="13" height="13" fill="#fff"/>
<text x="422.49" y="407.70" font-size="60" font-style="italic">Q</text>
<text x="464.66 483.68" y="407.70" font-size="60">(O</text>
<text x="525.08" y="431.00" font-size="36.5">2</text>
<text x="543.41 622.47 652.10 666.00 710.98 733.56 758.46 784.80" y="407.70" font-size="60">)1.0sccm</text>
<text transform="translate(593.5,400.90) scale(1.116,0.75)" x="-16.95" y="0" font-size="60">=</text>
<rect x="277" y="479.00" width="132.5" height="3"/>
<circle cx="343.30" cy="480.50" r="8.4" fill="#fff" stroke="#000" stroke-width="2"/>
<text x="422.49" y="499.70" font-size="60" font-style="italic">Q</text>
<text x="464.66 483.68" y="499.70" font-size="60">(O</text>
<text x="525.08" y="523.00" font-size="36.5">2</text>
<text x="543.41 622.47 652.10 665.88 710.98 733.56 758.46 784.80" y="499.70" font-size="60">)1.4sccm</text>
<text transform="translate(593.5,492.90) scale(1.116,0.75)" x="-16.95" y="0" font-size="60">=</text>
<rect x="277" y="571.00" width="132.5" height="3"/>
<polygon points="343.30,559.83 353.80,578.83 332.80,578.83" fill="#000"/><polygon points="343.30,564.17 350.24,576.73 336.36,576.73" fill="#fff"/>
<text x="422.49" y="591.70" font-size="60" font-style="italic">Q</text>
<text x="464.66 483.68" y="591.70" font-size="60">(O</text>
<text x="525.08" y="615.00" font-size="36.5">2</text>
<text x="543.41 622.47 652.10 665.60 710.98 733.56 758.46 784.80" y="591.70" font-size="60">)1.6sccm</text>
<text transform="translate(593.5,584.90) scale(1.116,0.75)" x="-16.95" y="0" font-size="60">=</text>
</svg>
</body></html>
